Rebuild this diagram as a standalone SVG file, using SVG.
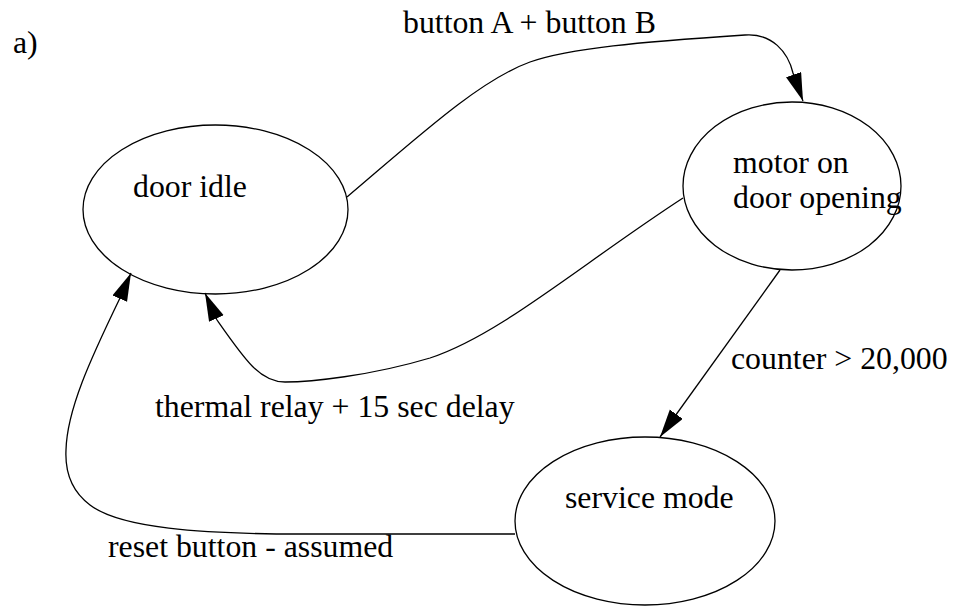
<svg xmlns="http://www.w3.org/2000/svg" width="954" height="607" viewBox="0 0 954 607">
<style>
  .node { fill: #ffffff; stroke: #000000; stroke-width: 1.3; }
  .edge { fill: none; stroke: #000000; stroke-width: 1.3; }
  text { font-family: "Liberation Serif", "Times New Roman", serif; font-size: 31.8px; fill: #000000; }
</style>
<defs>
  <marker id="arrow" markerUnits="userSpaceOnUse" markerWidth="29" markerHeight="17" refX="28" refY="8" orient="auto">
    <path d="M0,0 L28,8 L0,16 z" fill="#000000"/>
  </marker>
</defs>
<rect width="954" height="607" fill="#ffffff"/>
<text x="13" y="53">a)</text>
<g id="door-idle">
  <ellipse class="node" cx="215.5" cy="209.5" rx="132.5" ry="84.5"/>
  <text x="133" y="197">door idle</text>
</g>
<g id="motor-on">
  <ellipse class="node" cx="792" cy="186" rx="109" ry="84"/>
  <text x="733" y="173">motor on</text>
  <text x="733" y="208">door opening</text>
</g>
<g id="service-mode">
  <ellipse class="node" cx="645" cy="521" rx="130" ry="84"/>
  <text x="565" y="508">service mode</text>
</g>
<g id="connectors">
  <path class="edge" marker-end="url(#arrow)" d="M347,197 C420,135 480,80 530,62 C570,48 640,42 745,35 C772,33 788,52 793,73 L803,101"/>
  <path class="edge" marker-end="url(#arrow)" d="M683,198 C580,265 500,335 430,358 C370,376 310,382 285,382 C260,382 245,360 217,320 L205,293"/>
  <path class="edge" marker-end="url(#arrow)" d="M780,270 L660,437"/>
  <path class="edge" marker-end="url(#arrow)" d="M515,534 L300,534 C200,534 120,528 90,505 C70,490 65,470 66,450 C67,410 90,360 120,298 L131,273"/>
  <text x="403" y="33">button A + button B</text>
  <text x="155" y="417">thermal relay + 15 sec delay</text>
  <text x="731" y="369">counter &gt; 20,000</text>
  <text x="108" y="557">reset button - assumed</text>
</g>
</svg>
